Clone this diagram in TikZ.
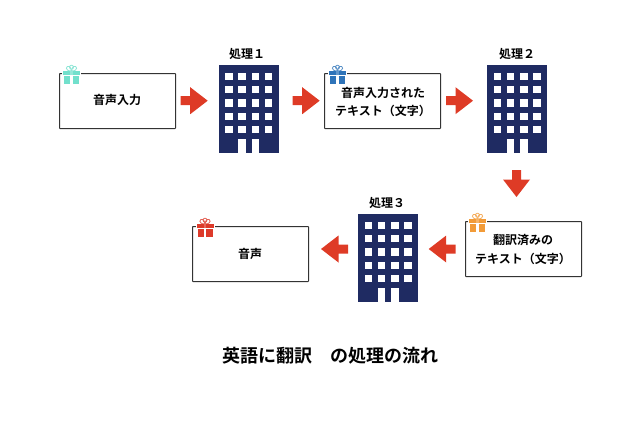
\documentclass[tikz,border=0pt]{standalone}
\usepackage{fontspec}
\setmainfont{Noto Sans CJK JP}[BoldFont={Noto Sans CJK JP Bold}]
\definecolor{navy}{HTML}{1F2B62}
\definecolor{arrowred}{HTML}{DE3B26}
\definecolor{giftteal}{HTML}{72E0CC}
\definecolor{giftblue}{HTML}{2F74B9}
\definecolor{giftorange}{HTML}{F29B38}
\definecolor{giftred}{HTML}{DD3A2A}
\tikzset{
  x=1pt,y=-1pt,
  card/.style={draw=black!80,line width=1pt,rounded corners=0.5pt,fill=white,minimum width=116pt,minimum height=55pt,inner sep=0pt,anchor=north west},
  lab/.style={font=\fontsize{12}{18}\selectfont\bfseries,text=black,align=center,inner sep=0pt},
  ttl/.style={font=\fontsize{18}{22}\selectfont\bfseries,text=black,inner sep=0pt},
}
% building: top-left x, y
\newcommand{\bldg}[2]{%
  \begin{scope}[shift={(#1,#2)}]
    \fill[navy] (0,0) rectangle (60,88);
    \foreach \cx in {6.5,19.8,33,46.3}
      \foreach \cy in {7.5,20.8,34,47.5,60.8}
        \fill[white] (\cx,\cy) rectangle ++(7.6,7.6);
    \fill[white] (19.8,73.8) rectangle ++(7.6,14.2);
    \fill[white] (33,73.8) rectangle ++(7.6,14.2);
  \end{scope}}
% block arrow: tip x, tip y, rotation (0 = pointing right)
\newcommand{\blockarrow}[3]{%
  \fill[arrowred,rotate around={#3:(#1,#2)}] (#1,#2) -- ++(-17.5,13.5) -- ++(0,-9) -- ++(-9.5,0) -- ++(0,-9) -- ++(9.5,0) -- ++(0,-9) -- cycle;}
% gift: top-left x, y, colour
\newcommand{\gift}[3]{%
  \begin{scope}[shift={(#1,#2)}]
    \fill[white] (-1,-0.5) rectangle (18,20.5);
    \draw[#3!80,line width=0.8pt] (8.5,7) .. controls (1,7) and (3,1) .. (6.5,2.5) .. controls (7.5,3) and (8,5) .. (8.5,7);
    \draw[#3!80,line width=0.8pt] (8.5,7) .. controls (16,7) and (14,1) .. (10.5,2.5) .. controls (9.5,3) and (9,5) .. (8.5,7);
    \draw[#3!80,line width=0.8pt] (8.5,3.2) circle[radius=2];
    \fill[#3] (0,7) rectangle (7.3,11);
    \fill[#3] (9.7,7) rectangle (17,11);
    \fill[#3!75] (7.3,7) rectangle (9.7,11);
    \fill[#3] (1,11.5) rectangle (7.3,20);
    \fill[#3] (9.7,11.5) rectangle (16,20);
  \end{scope}}
\begin{document}
\begin{tikzpicture}
\useasboundingbox (0,0) rectangle (640,421);
\node[card] (box1) at (59,73) {};
\node[card] (box2) at (324,73) {};
\node[card] (box3) at (465,221) {};
\node[card] (box4) at (192,226) {};
\gift{63}{64}{giftteal}
\gift{329}{64}{giftblue}
\gift{469}{212}{giftorange}
\gift{196.5}{217}{giftred}
\node[lab] (t1) at (117,100) {音声入力};
\node[lab] (t2) at (383,101.5) {音声入力された\\テキスト（文字）};
\node[lab] (t3) at (523,249.5) {翻訳済みの\\テキスト（文字）};
\node[lab] (t4) at (250,254) {音声};
\bldg{218.5}{65}
\bldg{487}{65}
\bldg{358}{214}
\node[lab] (p1) at (247,54) {処理１};
\node[lab] (p2) at (517,54) {処理２};
\node[lab] (p3) at (387,203) {処理３};
\blockarrow{207.7}{100.7}{0}
\blockarrow{319.7}{100.7}{0}
\blockarrow{473}{100.7}{0}
\blockarrow{516.5}{197}{270}
\blockarrow{428.7}{249}{180}
\blockarrow{321}{249}{180}
\node[ttl] (title) at (330,356) {英語に翻訳　の処理の流れ};
\end{tikzpicture}
\end{document}
